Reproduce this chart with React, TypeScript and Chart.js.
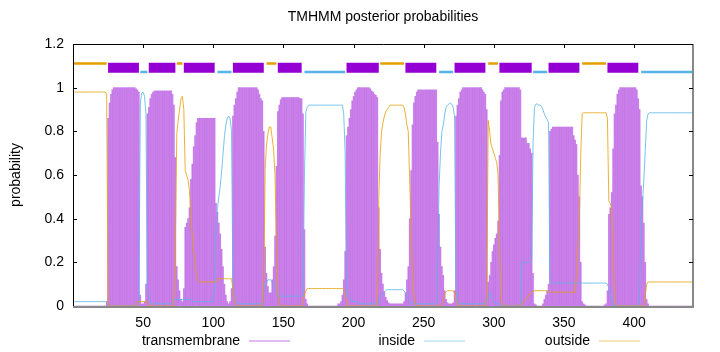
import React, { useEffect, useRef } from 'react';
import { Chart, registerables } from 'chart.js';

Chart.register(...registerables);

// Posterior probabilities per residue (residue 1..442)
const TM: number[] = [
  0,0,0,0,0,0,0,0,0,0,
  0,0,0,0,0,0,0,0,0,0,
  0,0,0,0.02,0.86,0.93,0.97,0.99,1,1,
  1,1,1,1,1,1,1,1,1,1,
  1,1,1,1,0.995,0.99,0.98,0.05,0.01,0.01,
  0.02,0.1,0.88,0.91,0.95,0.97,0.98,0.985,0.985,0.985,
  0.985,0.985,0.985,0.985,0.985,0.985,0.985,0.985,0.985,0.985,
  0.97,0.92,0.68,0.18,0.12,0.07,0.03,0.02,0.08,0.36,
  0.38,0.4,0.45,0.58,0.65,0.73,0.78,0.84,0.86,0.86,
  0.86,0.86,0.86,0.86,0.86,0.86,0.86,0.86,0.86,0.86,
  0.86,0.47,0.43,0.38,0.33,0.26,0.18,0.1,0.05,0.02,
  0.01,0.02,0.08,0.87,0.92,0.95,0.98,1,1,1,
  1,1,1,1,1,1,1,1,1,1,
  1,0.99,0.97,0.95,0.94,0.8,0.27,0.15,0.09,0.06,
  0.06,0.12,0.18,0.32,0.64,0.89,0.92,0.945,0.955,0.955,
  0.955,0.955,0.955,0.955,0.955,0.955,0.955,0.955,0.955,0.955,
  0.955,0.95,0.95,0.88,0.35,0.03,0.01,0,0,0,
  0,0,0,0,0,0,0,0,0,0,
  0,0,0,0,0,0,0,0,0.01,0.01,
  0.02,0.05,0.12,0.25,0.78,0.82,0.86,0.9,0.94,0.96,
  0.98,0.99,1,1,1,1,1,1,1,1,
  1,0.995,0.985,0.98,0.97,0.965,0.955,0.45,0.26,0.15,
  0.1,0.065,0.04,0.025,0.015,0.01,0.01,0.01,0.01,0.01,
  0.01,0.01,0.01,0.01,0.01,0.02,0.06,0.12,0.18,0.4,
  0.62,0.83,0.93,0.96,0.98,0.99,0.99,0.99,0.99,0.99,
  0.99,0.99,0.99,0.99,0.99,0.99,0.99,0.99,0.99,0.75,
  0.42,0.27,0.18,0.14,0.07,0.03,0.015,0.01,0.01,0.01,
  0.015,0.07,0.87,0.92,0.95,0.98,0.99,1,1,1,
  1,1,1,1,1,1,1,1,1,1,
  1,0.99,0.98,0.97,0.9,0.11,0.14,0.2,0.25,0.28,
  0.31,0.33,0.39,0.69,0.94,0.98,0.99,1,1,1,
  1,1,1,1,1,1,1,1,0.99,0.77,
  0.77,0.77,0.77,0.745,0.745,0.72,0.7,0.15,0.01,0.005,
  0,0,0,0,0.01,0.03,0.05,0.07,0.1,0.8,
  0.81,0.82,0.82,0.82,0.82,0.82,0.82,0.82,0.82,0.82,
  0.82,0.82,0.82,0.82,0.82,0.82,0.78,0.76,0.74,0.6,
  0.5,0.2,0.02,0.01,0.005,0,0,0,0,0,
  0,0,0,0,0,0,0,0,0.005,0.01,
  0.07,0.42,0.45,0.52,0.72,0.88,0.92,0.97,0.99,1,
  1,1,1,1,1,1,1,1,1,1,
  1,0.99,0.95,0.9,0.55,0.5,0.38,0.2,0.03,0.01,
  0,0,0,0,0,0,0,0,0,0,
  0,0,0,0,0,0,0,0,0,0,
  0,0,0,0,0,0,0,0,0,0,
  0,0,
];

const INSIDE: number[] = [
  0.02,0.02,0.02,0.02,0.02,0.02,0.02,0.02,0.02,0.02,
  0.02,0.02,0.02,0.02,0.02,0.02,0.02,0.02,0.02,0.02,
  0.02,0.02,0.02,0.02,0.01,0,0,0,0,0,
  0,0,0,0,0,0,0,0,0,0,
  0,0,0,0,0,0.01,0.02,0.93,0.975,0.98,
  0.96,0.88,0.08,0.04,0.02,0.01,0.01,0.01,0.01,0.01,
  0.01,0.01,0.01,0.01,0.01,0.01,0.01,0.01,0.01,0.01,
  0.02,0.03,0.03,0.03,0.03,0.03,0.03,0.03,0.03,0.03,
  0.03,0.03,0.03,0.03,0.02,0.02,0.02,0.02,0.02,0.02,
  0.02,0.02,0.02,0.02,0.02,0.02,0.02,0.02,0.02,0.02,
  0.1,0.4,0.45,0.5,0.55,0.62,0.7,0.78,0.83,0.86,
  0.87,0.86,0.8,0.1,0.04,0.02,0.01,0.01,0.01,0.01,
  0.01,0.01,0.01,0.01,0.01,0.01,0.01,0.01,0.01,0.01,
  0.01,0.01,0.01,0.01,0.02,0.06,0.1,0.11,0.12,0.12,
  0.12,0.11,0.1,0.08,0.06,0.045,0.045,0.045,0.045,0.045,
  0.045,0.045,0.045,0.045,0.045,0.045,0.045,0.045,0.045,0.045,
  0.045,0.045,0.045,0.06,0.6,0.89,0.91,0.92,0.92,0.92,
  0.92,0.92,0.92,0.92,0.92,0.92,0.92,0.92,0.92,0.92,
  0.92,0.92,0.92,0.92,0.92,0.92,0.92,0.92,0.92,0.92,
  0.92,0.92,0.88,0.7,0.08,0.05,0.04,0.03,0.02,0.02,
  0.02,0.02,0.02,0.01,0.01,0.01,0.01,0.01,0.01,0.01,
  0.01,0.01,0.01,0.01,0.01,0.01,0.01,0.02,0.04,0.05,
  0.06,0.065,0.07,0.075,0.075,0.075,0.075,0.075,0.075,0.075,
  0.075,0.075,0.075,0.075,0.075,0.07,0.06,0.05,0.03,0.02,
  0.01,0.01,0.01,0.01,0.01,0.01,0.01,0.01,0.01,0.01,
  0.01,0.01,0.01,0.01,0.01,0.01,0.01,0.01,0.01,0.2,
  0.55,0.7,0.8,0.83,0.88,0.91,0.92,0.925,0.93,0.925,
  0.91,0.87,0.08,0.03,0.01,0.01,0.01,0.01,0.01,0.01,
  0.01,0.01,0.01,0.01,0.01,0.01,0.01,0.01,0.01,0.01,
  0.01,0.01,0.01,0.01,0.02,0.04,0.06,0.05,0.03,0.02,
  0.01,0.01,0.01,0.01,0,0,0,0,0,0,
  0,0,0,0,0,0,0,0,0,0.2,
  0.2,0.2,0.2,0.2,0.2,0.2,0.21,0.75,0.91,0.925,
  0.925,0.92,0.92,0.915,0.9,0.88,0.865,0.855,0.84,0.11,
  0.105,0.105,0.105,0.105,0.105,0.105,0.105,0.105,0.105,0.105,
  0.105,0.105,0.105,0.105,0.105,0.105,0.105,0.105,0.105,0.105,
  0.105,0.105,0.105,0.105,0.105,0.105,0.105,0.105,0.105,0.105,
  0.105,0.105,0.105,0.105,0.105,0.105,0.105,0.105,0.105,0.105,
  0.1,0.08,0.05,0.03,0.01,0,0,0,0,0,
  0,0,0,0,0,0,0,0,0,0,
  0,0,0,0.08,0.38,0.48,0.58,0.72,0.85,0.88,
  0.885,0.885,0.885,0.885,0.885,0.885,0.885,0.885,0.885,0.885,
  0.885,0.885,0.885,0.885,0.885,0.885,0.885,0.885,0.885,0.885,
  0.885,0.885,0.885,0.885,0.885,0.885,0.885,0.885,0.885,0.885,
  0.885,0.885,
];

const OUTSIDE: number[] = [
  0.98,0.98,0.98,0.98,0.98,0.98,0.98,0.98,0.98,0.98,
  0.98,0.98,0.98,0.98,0.98,0.98,0.98,0.98,0.98,0.98,
  0.98,0.98,0.98,0.97,0.01,0,0,0,0,0,
  0,0,0,0,0,0,0,0,0,0,
  0,0,0,0,0,0.02,0.02,0.02,0.02,0.02,
  0.02,0.02,0.02,0,0,0,0,0,0,0,
  0,0,0,0,0,0,0,0,0,0,
  0,0.05,0.3,0.79,0.85,0.9,0.95,0.96,0.9,0.62,
  0.6,0.58,0.53,0.4,0.33,0.25,0.2,0.14,0.12,0.11,
  0.11,0.11,0.11,0.11,0.11,0.11,0.11,0.11,0.11,0.11,
  0.11,0.11,0.125,0.125,0.125,0.125,0.125,0.125,0.125,0.125,
  0.125,0.125,0.125,0.08,0.03,0.01,0,0,0,0,
  0,0,0,0,0,0,0,0,0,0,
  0,0,0,0,0.02,0.12,0.63,0.74,0.79,0.82,
  0.82,0.77,0.72,0.6,0.3,0.05,0.01,0,0,0,
  0,0,0,0,0,0,0,0,0,0,
  0,0,0,0.03,0.05,0.07,0.08,0.08,0.08,0.08,
  0.08,0.08,0.08,0.08,0.08,0.08,0.08,0.08,0.08,0.08,
  0.08,0.08,0.08,0.08,0.08,0.08,0.08,0.08,0.08,0.08,
  0.08,0.08,0.075,0.05,0.02,0,0,0,0,0,
  0,0,0,0,0,0,0,0,0,0,
  0,0,0,0,0,0,0.02,0.5,0.7,0.8,
  0.84,0.87,0.89,0.9,0.91,0.92,0.92,0.92,0.92,0.92,
  0.92,0.92,0.92,0.92,0.92,0.91,0.88,0.83,0.8,0.58,
  0.36,0.15,0.05,0.01,0,0,0,0,0,0,
  0,0,0,0,0,0,0,0,0,0,
  0,0,0.01,0.02,0.055,0.065,0.07,0.07,0.07,0.07,
  0.07,0.06,0.03,0.01,0,0,0,0,0,0,
  0,0,0,0,0,0,0,0,0,0,
  0,0,0,0,0.05,0.85,0.8,0.74,0.72,0.7,
  0.68,0.66,0.6,0.3,0.05,0.01,0,0,0,0,
  0,0,0,0,0,0,0,0,0,0.01,
  0.02,0.03,0.035,0.04,0.05,0.06,0.065,0.07,0.07,0.07,
  0.07,0.07,0.07,0.07,0.07,0.07,0.07,0.07,0.063,0.063,
  0.063,0.063,0.063,0.063,0.063,0.063,0.063,0.063,0.063,0.063,
  0.063,0.063,0.063,0.063,0.063,0.063,0.063,0.063,0.15,0.28,
  0.4,0.7,0.88,0.885,0.885,0.885,0.885,0.885,0.885,0.885,
  0.885,0.885,0.885,0.885,0.885,0.885,0.885,0.885,0.885,0.885,
  0.86,0.48,0.47,0.45,0.25,0.05,0.01,0,0,0,
  0,0,0,0,0,0,0,0,0,0,
  0,0,0,0,0,0,0,0.05,0.1,0.11,
  0.11,0.11,0.11,0.11,0.11,0.11,0.11,0.11,0.11,0.11,
  0.11,0.11,0.11,0.11,0.11,0.11,0.11,0.11,0.11,0.11,
  0.11,0.11,0.11,0.11,0.11,0.11,0.11,0.11,0.11,0.11,
  0.11,0.11,
];

// Predicted topology segments (residue ranges)
const TM_SEGMENTS: number[][] = [
  [25, 47], [54, 73], [79, 101], [114, 136], [146, 163], [195, 218],
  [237, 259], [272, 294], [304, 327], [339, 361], [381, 403],
];
const INSIDE_SEGMENTS: number[][] = [
  [48, 53], [103, 113], [165, 194], [261, 271], [328, 338], [405, 442],
];
const OUTSIDE_SEGMENTS: number[][] = [
  [0, 24], [74, 78], [138, 145], [219, 236], [296, 303], [363, 380],
];

const LEVEL_OUTSIDE = 1.111;
const LEVEL_TM = 1.091;
const LEVEL_INSIDE = 1.072;

const X_TICKS = [50, 100, 150, 200, 250, 300, 350, 400];
const Y_TICKS = [0, 0.2, 0.4, 0.6, 0.8, 1, 1.2];
const Y_TICK_LABELS = ['0', '0.2', '0.4', '0.6', '0.8', '1', '1.2'];
const SERIES_LABELS = ['transmembrane', 'inside', 'outside'];
const TITLE = 'TMHMM posterior probabilities';
const Y_TITLE = 'probability';

const C_TM = '#9400d3';
const C_IN = '#56b4e9';
const C_OUT = '#e69f00';
const FONT = '"Liberation Sans", Arial, sans-serif';

function residuePoints(values: number[]) {
  return values.map((v, i) => ({ x: i + 1, y: v }));
}

function segmentPoints(segs: number[][], level: number) {
  const pts: { x: number; y: number | null }[] = [];
  segs.forEach(([s, e]) => {
    pts.push({ x: s, y: level }, { x: e, y: level }, { x: e + 0.5, y: null });
  });
  return pts;
}

const framePlugin = {
  id: 'gnuplotFrame',
  afterDraw(chart: any) {
    const { ctx, chartArea } = chart;
    const { left, right, top, bottom } = chartArea;
    const xs = chart.scales.x;
    const ys = chart.scales.y;
    ctx.save();
    // borders
    ctx.lineWidth = 1;
    ctx.strokeStyle = '#000';
    ctx.beginPath();
    ctx.moveTo(left + 0.5, bottom);
    ctx.lineTo(left + 0.5, top + 0.5);
    ctx.lineTo(right, top + 0.5);
    ctx.stroke();
    ctx.strokeStyle = '#888';
    ctx.lineWidth = 2;
    ctx.beginPath();
    ctx.moveTo(right, top);
    ctx.lineTo(right, bottom + 1);
    ctx.moveTo(left, bottom + 1);
    ctx.lineTo(right + 1, bottom + 1);
    ctx.stroke();
    // inward ticks
    ctx.strokeStyle = '#000';
    ctx.lineWidth = 1;
    ctx.beginPath();
    Y_TICKS.forEach((v) => {
      const y = Math.round(ys.getPixelForValue(v)) + 0.5;
      if (v === 0) return;
      ctx.moveTo(left, y);
      ctx.lineTo(left + 4, y);
      ctx.moveTo(right - 4, y);
      ctx.lineTo(right, y);
    });
    X_TICKS.forEach((v) => {
      const x = Math.round(xs.getPixelForValue(v)) + 0.5;
      ctx.moveTo(x, top);
      ctx.lineTo(x, top + 4);
    });
    ctx.stroke();
    // title
    ctx.fillStyle = '#000';
    ctx.font = `14px ${FONT}`;
    ctx.textAlign = 'center';
    ctx.textBaseline = 'middle';
    ctx.fillText(TITLE, (left + right) / 2, 17);
    // y title
    ctx.save();
    ctx.translate(16, (top + bottom) / 2);
    ctx.rotate(-Math.PI / 2);
    ctx.fillText(Y_TITLE, 0, 0);
    ctx.restore();
    // legend
    const colors = [C_TM, C_IN, C_OUT];
    const textRight = [240, 415, 590];
    const ly = 341;
    ctx.textAlign = 'right';
    SERIES_LABELS.forEach((lab, i) => {
      ctx.fillStyle = '#000';
      ctx.fillText(lab, textRight[i], ly);
      ctx.strokeStyle = colors[i];
      ctx.globalAlpha = 0.55;
      ctx.beginPath();
      ctx.moveTo(textRight[i] + 9, ly);
      ctx.lineTo(textRight[i] + 50, ly);
      ctx.stroke();
      ctx.globalAlpha = 1;
    });
    ctx.restore();
  },
};

export default function App() {
  const canvasRef = useRef<HTMLCanvasElement | null>(null);

  useEffect(() => {
    const canvas = canvasRef.current;
    if (!canvas) return;
    const chart = new Chart(canvas, {
      type: 'bar',
      data: {
        datasets: [
          {
            type: 'line',
            label: 'outside region',
            data: segmentPoints(OUTSIDE_SEGMENTS, LEVEL_OUTSIDE),
            borderColor: C_OUT,
            borderWidth: 2.6,
            borderCapStyle: 'butt',
            pointRadius: 0,
            spanGaps: false,
            order: 1,
          } as any,
          {
            type: 'line',
            label: 'inside region',
            data: segmentPoints(INSIDE_SEGMENTS, LEVEL_INSIDE),
            borderColor: C_IN,
            borderWidth: 2.6,
            borderCapStyle: 'butt',
            pointRadius: 0,
            spanGaps: false,
            order: 1,
          } as any,
          {
            type: 'line',
            label: 'TM region',
            data: segmentPoints(TM_SEGMENTS, LEVEL_TM),
            borderColor: C_TM,
            borderWidth: 10,
            borderCapStyle: 'butt',
            pointRadius: 0,
            spanGaps: false,
            order: 1,
          } as any,
          {
            type: 'line',
            label: SERIES_LABELS[2],
            data: residuePoints(OUTSIDE),
            borderColor: 'rgba(230,159,0,0.8)',
            borderWidth: 1,
            pointRadius: 0,
            tension: 0,
            order: 2,
          } as any,
          {
            type: 'line',
            label: SERIES_LABELS[1],
            data: residuePoints(INSIDE),
            borderColor: 'rgba(86,180,233,0.8)',
            borderWidth: 1,
            pointRadius: 0,
            tension: 0,
            order: 3,
          } as any,
          {
            type: 'bar',
            label: SERIES_LABELS[0],
            data: residuePoints(TM),
            backgroundColor: 'rgba(148,0,211,0.5)',
            borderWidth: 0,
            barThickness: 0.9,
            order: 4,
          } as any,
        ],
      },
      options: {
        animation: false,
        responsive: false,
        devicePixelRatio: 1,
        layout: { padding: { top: 44, right: 27, left: 0, bottom: 0 } },
        plugins: {
          legend: { display: false },
          title: { display: false },
          tooltip: { enabled: false },
        },
        scales: {
          x: {
            type: 'linear',
            min: 0,
            max: 442,
            offset: false,
            border: { display: false },
            grid: { display: false, drawTicks: false },
            afterBuildTicks: (scale: any) => {
              scale.ticks = X_TICKS.map((v) => ({ value: v }));
            },
            afterFit: (scale: any) => {
              scale.height = 46;
            },
            ticks: {
              autoSkip: false,
              maxRotation: 0,
              padding: 9,
              color: '#000',
              font: { family: FONT, size: 14 },
              callback: (v: any) => String(v),
            },
          },
          y: {
            type: 'linear',
            min: 0,
            max: 1.2,
            border: { display: false },
            grid: { display: false, drawTicks: false },
            afterBuildTicks: (scale: any) => {
              scale.ticks = Y_TICKS.map((v) => ({ value: v }));
            },
            afterFit: (scale: any) => {
              scale.width = 73;
            },
            ticks: {
              padding: 9,
              color: '#000',
              font: { family: FONT, size: 14 },
              callback: (v: any) => {
                const idx = Y_TICKS.findIndex((t) => Math.abs(t - Number(v)) < 1e-6);
                return idx >= 0 ? Y_TICK_LABELS[idx] : '';
              },
            },
          },
        },
      },
      plugins: [framePlugin],
    });
    return () => chart.destroy();
  }, []);

  return (
    <div style={{ position: 'fixed', left: 0, top: 0, width: 720, height: 352, background: '#fff' }}>
      <canvas ref={canvasRef} width={720} height={352} style={{ display: 'block' }} />
    </div>
  );
}
